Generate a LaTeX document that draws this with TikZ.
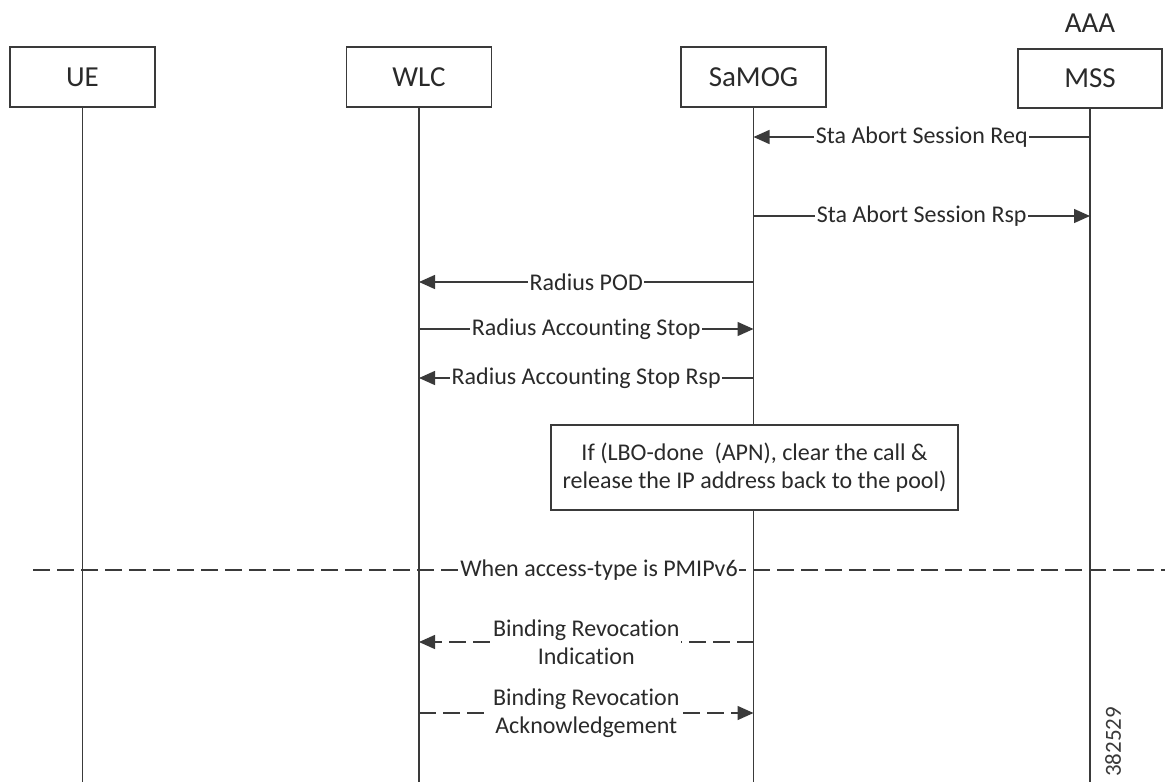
\documentclass[tikz,border=0pt]{standalone}
\usepackage{fontspec}
\setmainfont{Carlito}[Ligatures=NoCommon]
\usetikzlibrary{arrows.meta}
\definecolor{ln}{HTML}{3A3A3A}
\definecolor{tx}{HTML}{2A2A2A}
\begin{document}
\begin{tikzpicture}[x=1pt,y=-1pt,
  every node/.style={text=tx},
  actor/.style={draw=ln,line width=1.4pt,minimum width=145pt,minimum height=60pt,inner sep=0pt,font=\fontsize{29}{33}\selectfont},
  lifeline/.style={draw=ln,line width=1.4pt},
  msg/.style={draw=ln,line width=1.4pt,-{Triangle[length=16pt,width=14pt]}},
  dmsg/.style={msg,dash pattern=on 17pt off 7pt},
  lbl/.style={fill=white,inner sep=1.5pt,font=\fontsize{24}{28}\selectfont},
  lbl2/.style={lbl,align=center,inner sep=2pt},
  notebox/.style={draw=ln,line width=1.4pt,fill=white,minimum width=407pt,minimum height=85pt,align=center,inner sep=0pt,font=\fontsize{24}{28}\selectfont},
  sep/.style={draw=ln,line width=1.4pt,dash pattern=on 17pt off 7pt}]
\useasboundingbox (0,0) rectangle (1165,782);
% actors
\node[actor] (ue) at (82.5,77) {UE};
\node[actor] (wlc) at (419,77) {WLC};
\node[actor] (samog) at (753.5,77) {SaMOG};
\node[actor,minimum width=144pt,minimum height=59pt] (mss) at (1090,78.5) {MSS};
\node[font=\fontsize{29}{33}\selectfont] (aaa) at (1090,23) {AAA};
% lifeline ends
\coordinate (bot) at (0,782);
\draw[lifeline] (ue.south) -- (ue.south |- bot);
\draw[lifeline] (wlc.south) -- (wlc.south |- bot);
\draw[lifeline] (samog.south) -- (samog.south |- bot);
\draw[lifeline] (mss.south) -- (mss.south |- bot);
% message rows
\coordinate (r1) at (0,137);
\coordinate (r2) at (0,216);
\coordinate (r3) at (0,282);
\coordinate (r4) at (0,329);
\coordinate (r5) at (0,378);
\coordinate (r7) at (0,642);
\coordinate (r8) at (0,713);
\draw[msg] (mss |- r1) -- node[lbl] {Sta Abort Session Req} (samog |- r1);
\draw[msg] (samog |- r2) -- node[lbl] {Sta Abort Session Rsp} (mss |- r2);
\draw[msg] (samog |- r3) -- node[lbl] {Radius POD} (wlc |- r3);
\draw[msg] (wlc |- r4) -- node[lbl] {Radius Accounting Stop} (samog |- r4);
\draw[msg] (samog |- r5) -- node[lbl] {Radius Accounting Stop Rsp} (wlc |- r5);
% note
\node[notebox] (note) at (754.5,467.5) {If (LBO-done\ \ (APN), clear the call \&\\release the IP address back to the pool)};
% separator
\coordinate (sepl) at (33,570);
\coordinate (sepr) at (1165,570);
\draw[sep] (sepl) -- node[lbl] {When access-type is PMIPv6} (sepr);
% PMIPv6 messages
\draw[dmsg] (samog |- r7) -- node[lbl2] {Binding Revocation\\Indication} (wlc |- r7);
\draw[dmsg] (wlc |- r8) -- node[lbl2] {Binding Revocation\\Acknowledgement} (samog |- r8);
% figure number
\node[rotate=90,font=\fontsize{23}{26}\selectfont,text=ln] (fig) at (1113,742) {382529};
\end{tikzpicture}
\end{document}
